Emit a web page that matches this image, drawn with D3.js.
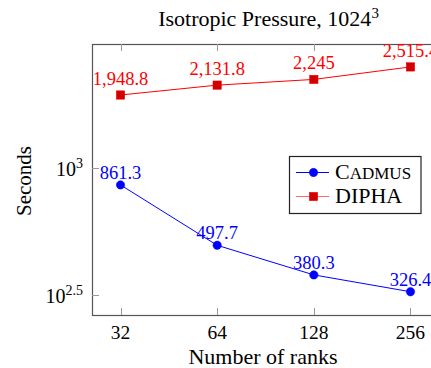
<!DOCTYPE html>
<html>
<head>
<meta charset="utf-8">
<script src="https://cdn.jsdelivr.net/npm/d3@7"></script>
<style>
  body { margin: 0; background: #fff; }
  svg { display: block; font-family: "Liberation Serif", "DejaVu Serif", serif; }
</style>
</head>
<body>
<div id="chart"></div>
<script>
// data
const ranks = [32, 64, 128, 256];
const cadmus = [861.3, 497.7, 380.3, 326.4];
const dipha = [1948.8, 2131.8, 2245, 2515.4];
const yTicks = [Math.pow(10, 2.5), 1000];
const yTickLabels = [["10", "2.5"], ["10", "3"]];

const width = 431, height = 368;
const plot = { left: 92, right: 439, top: 44, bottom: 315 };

const svg = d3.select('#chart').append('svg')
  .attr('width', width)
  .attr('height', height);

// log2 x axis, log10 y axis (pgfplots-like)
const x = d3.scaleLog().base(2)
  .domain([Math.pow(2, 4.705), Math.pow(2, 8.295)])
  .range([plot.left, plot.right]);

const y = d3.scaleLog()
  .domain([Math.pow(10, 2.422), Math.pow(10, 3.491)])
  .range([plot.bottom, plot.top]);

const axisColor = '#555';
const fmt = d3.format(',');

// frame
svg.append('rect')
  .attr('x', plot.left + 0.5).attr('y', plot.top + 0.5)
  .attr('width', plot.right - plot.left).attr('height', plot.bottom - plot.top)
  .attr('fill', 'none').attr('stroke', axisColor).attr('stroke-width', 1.2);

// x ticks (inside, bottom and top)
ranks.forEach(r => {
  const xp = Math.round(x(r)) + 0.5;
  svg.append('line').attr('x1', xp).attr('x2', xp)
    .attr('y1', plot.bottom).attr('y2', plot.bottom - 7)
    .attr('stroke', '#999');
  svg.append('line').attr('x1', xp).attr('x2', xp)
    .attr('y1', plot.top).attr('y2', plot.top + 7)
    .attr('stroke', '#999');
  svg.append('text')
    .attr('x', x(r)).attr('y', 338.5)
    .attr('text-anchor', 'middle')
    .attr('font-size', 19.5)
    .text(r);
});

// y ticks
yTicks.forEach((v, i) => {
  const yp = Math.round(y(v)) + 0.5;
  svg.append('line').attr('x1', plot.left).attr('x2', plot.left + 7)
    .attr('y1', yp).attr('y2', yp).attr('stroke', '#999');
  const t = svg.append('text')
    .attr('x', 83).attr('y', y(v) + 7.5)
    .attr('text-anchor', 'end')
    .attr('font-size', 20);
  t.append('tspan').text(yTickLabels[i][0]);
  t.append('tspan').attr('dy', -8).attr('font-size', 14).text(yTickLabels[i][1]);
});

// series
const series = [
  { name: 'Cadmus', values: cadmus, color: '#0000ff', fill: '#0000ff', marker: 'circle', off: 6, legLine: '#0000ff' },
  { name: 'DIPHA', values: dipha, color: '#ff0000', fill: '#d00000', marker: 'square', off: 10, legLine: '#ff6a6a' }
];

const line = d3.line()
  .x(d => x(d[0]))
  .y(d => y(d[1]));

function drawMarker(g, s, cx, cy) {
  if (s.marker === 'circle') {
    g.append('circle').attr('cx', cx).attr('cy', cy).attr('r', 4.2)
      .attr('fill', s.fill).attr('stroke', s.color).attr('stroke-width', 0.5);
  } else {
    g.append('rect').attr('x', cx - 4.2).attr('y', cy - 4.2)
      .attr('width', 8.4).attr('height', 8.4)
      .attr('fill', s.fill).attr('stroke', s.color).attr('stroke-width', 0.5);
  }
}

series.forEach(s => {
  const pts = ranks.map((r, i) => [r, s.values[i]]);
  svg.append('path')
    .datum(pts)
    .attr('d', line)
    .attr('fill', 'none')
    .attr('stroke', s.color)
    .attr('stroke-width', 1);
  pts.forEach(p => drawMarker(svg, s, x(p[0]), y(p[1])));
  pts.forEach(p => {
    svg.append('text')
      .attr('x', x(p[0])).attr('y', y(p[1]) - s.off)
      .attr('text-anchor', 'middle')
      .attr('font-size', 18.5)
      .attr('fill', s.color)
      .text(fmt(p[1]));
  });
});

// legend
const lg = svg.append('g');
lg.append('rect')
  .attr('x', 289.5).attr('y', 156.5).attr('width', 131.5).attr('height', 57)
  .attr('fill', '#fff').attr('stroke', '#222').attr('stroke-width', 1.2);
series.forEach((s, i) => {
  const ly = 172.5 + i * 24;
  lg.append('line').attr('x1', 296).attr('x2', 329)
    .attr('y1', ly).attr('y2', ly).attr('stroke', s.legLine);
  drawMarker(lg, s, 313.5, ly);
  const t = lg.append('text')
    .attr('x', 335).attr('y', ly + 6)
    .attr('font-size', 22);
  if (s.name === 'Cadmus') {
    t.append('tspan').text('C');
    t.append('tspan').attr('font-size', 17).text('ADMUS');
  } else {
    t.text(s.name);
  }
});

// titles
svg.append('text')
  .attr('x', 268.5).attr('y', 25.5)
  .attr('text-anchor', 'middle')
  .attr('font-size', 22)
  .call(t => {
    t.append('tspan').text('Isotropic Pressure, 1024');
    t.append('tspan').attr('dy', -8).attr('font-size', 15).text('3');
  });

svg.append('text')
  .attr('x', 263).attr('y', 364)
  .attr('text-anchor', 'middle')
  .attr('font-size', 22)
  .text('Number of ranks');

svg.append('text')
  .attr('transform', 'translate(31,181) rotate(-90)')
  .attr('text-anchor', 'middle')
  .attr('font-size', 21)
  .text('Seconds');
</script>
</body>
</html>
